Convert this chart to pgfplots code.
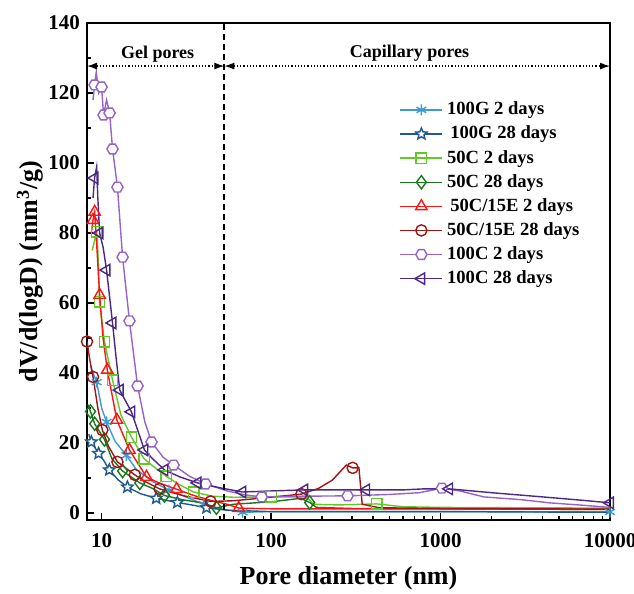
\documentclass[border=0pt]{standalone}
\usepackage{fontspec}
\setmainfont{Liberation Serif}
\usepackage{pgfplots}
\pgfplotsset{compat=1.18}
\usetikzlibrary{arrows.meta}

\definecolor{lblue}{RGB}{60,155,210}
\definecolor{dblue}{RGB}{30,90,140}
\definecolor{lgreen}{RGB}{100,200,40}
\definecolor{dgreen}{RGB}{25,120,30}
\definecolor{cred}{RGB}{255,20,20}
\definecolor{dred}{RGB}{160,20,20}
\definecolor{lpurple}{RGB}{150,100,200}
\definecolor{dpurple}{RGB}{75,40,130}

% hollow hexagon and outlined star marks
\pgfdeclareplotmark{hexagon}{%
  \pgfpathmoveto{\pgfpointpolar{0}{\pgfplotmarksize}}%
  \pgfpathlineto{\pgfpointpolar{60}{\pgfplotmarksize}}%
  \pgfpathlineto{\pgfpointpolar{120}{\pgfplotmarksize}}%
  \pgfpathlineto{\pgfpointpolar{180}{\pgfplotmarksize}}%
  \pgfpathlineto{\pgfpointpolar{240}{\pgfplotmarksize}}%
  \pgfpathlineto{\pgfpointpolar{300}{\pgfplotmarksize}}%
  \pgfpathclose\pgfusepathqfillstroke}
\pgfdeclareplotmark{ostar}{%
  \pgfpathmoveto{\pgfpointpolar{90}{\pgfplotmarksize}}%
  \pgfpathlineto{\pgfpointpolar{126}{0.45\pgfplotmarksize}}%
  \pgfpathlineto{\pgfpointpolar{162}{\pgfplotmarksize}}%
  \pgfpathlineto{\pgfpointpolar{198}{0.45\pgfplotmarksize}}%
  \pgfpathlineto{\pgfpointpolar{234}{\pgfplotmarksize}}%
  \pgfpathlineto{\pgfpointpolar{270}{0.45\pgfplotmarksize}}%
  \pgfpathlineto{\pgfpointpolar{306}{\pgfplotmarksize}}%
  \pgfpathlineto{\pgfpointpolar{342}{0.45\pgfplotmarksize}}%
  \pgfpathlineto{\pgfpointpolar{18}{\pgfplotmarksize}}%
  \pgfpathlineto{\pgfpointpolar{54}{0.45\pgfplotmarksize}}%
  \pgfpathclose\pgfusepathqfillstroke}

\begin{document}
\begin{tikzpicture}
\begin{axis}[
    name=ax,
    scale only axis,
    width=261.5pt, height=248.5pt,
    xmode=log, xmin=8.2, xmax=10000,
    ymin=-2, ymax=140,
    xtick={10,100,1000,10000},
    xticklabels={10,100,1000,10000},
    ytick={0,20,...,140},
    minor y tick num=1,
    tick align=inside,
    xtick pos=bottom, ytick pos=left,
    major tick length=3.5pt, minor tick length=2pt,
    axis line style={line width=1pt},
    every tick/.append style={black, line width=0.7pt},
    tick label style={font=\fontsize{10.5}{12}\selectfont\bfseries},
    /pgf/number format/assume math mode=true,
    xticklabel style={yshift=-3pt},
    xlabel={Pore diameter (nm)},
    ylabel={dV/d(logD) (mm\textsuperscript{3}/g)},
    label style={font=\fontsize{13}{16}\selectfont\bfseries},
    xlabel style={at={(axis description cs:0.5,-0.118)}, anchor=center},
    ylabel style={at={(axis description cs:-0.109,0.5)}, anchor=center},
    legend style={at={(axis description cs:0.597,0.85)}, anchor=north west,
        draw=none, fill=none, inner sep=0pt,
        font=\fontsize{9.3}{11}\selectfont\bfseries, row sep=0.1pt},
    legend cell align=left,
    legend image code/.code={%
        \draw[mark indices={2}] plot coordinates {(0cm,0cm) (0.37cm,0cm) (0.74cm,0cm)};},
    every axis plot/.append style={line width=0.7pt, mark size=2.8pt,
        mark options={solid, fill=white}},
]

\addplot[color=lblue, mark=asterisk, mark indices={2,4,6,9,11,13,16}] coordinates {
    (8.6,42) (9.35,37.4) (10,30) (10.7,26) (12,20.5) (14,16.5) (16,12.5)
    (20,9) (25,6.5) (30,5) (40,2.5) (50,1.2) (68,0.2) (100,0.4) (1000,0.4) (10000,0.3)
};
\addlegendentry{100G 2 days}

\addplot[color=dblue, mark=ostar, mark size=3pt, mark indices={2,3,5,7,9,10,12}] coordinates {
    (8.4,22.5) (8.7,20.3) (9.6,17) (10.3,15) (11.1,12.3) (12.5,9.5) (14.2,7.4)
    (17,5.5) (21,4.2) (28,3) (35,2.2) (41.6,1.5) (55,0.8) (100,0.4) (1000,0.4) (10000,0.2)
};
\addlegendentry{\,100G 28 days}

\addplot[color=lgreen, mark=square, mark size=2.6pt, mark indices={2,4,5,6,8,9,11,13,16,20}] coordinates {
    (8.8,75) (9.35,80.3) (9.5,75) (9.73,60.3) (10.4,48.9) (11.6,38) (13,28)
    (15,21.7) (17.8,15.5) (20,13.5) (24,10.5) (29,8) (35,6) (45,4.8) (60,4.5)
    (100,4.6) (160,4.6) (180,2.5) (250,2.3) (420,2.6) (600,1.8) (1000,1.6) (10000,1.4)
};
\addlegendentry{50C 2 days}

\addplot[color=dgreen, mark=diamond, mark size=3.3pt, mark indices={2,3,4,6,7,9,12,16}] coordinates {
    (8.3,31) (8.6,29) (9.1,25.5) (10.4,21) (11.5,15.5) (13.3,12) (16.8,8.6)
    (20,7) (23.5,5) (30,3.8) (40,2.8) (47.6,1.5) (60,2.5) (100,3.2) (150,4.2)
    (169,3) (185,1.6) (300,1.3) (1000,1.2) (10000,1.0)
};
\addlegendentry{50C 28 days}

\addplot[color=cred, mark=triangle, mark size=3.3pt, mark indices={2,3,5,7,8,9,10,12,16}] coordinates {
    (8.7,80) (8.9,83.7) (9.1,86) (9.4,75) (9.73,62.3) (10.2,50) (10.8,40.9)
    (12.3,26.6) (14.6,18) (18.4,10.3) (22,8.5) (27.7,6.8) (35,5) (45,3.5)
    (55,2.5) (64.5,1.4) (100,1.2) (1000,1.2) (10000,1.0)
};
\addlegendentry{\,50C/15E 2 days}

\addplot[color=dred, mark=o, mark indices={1,3,5,7,8,10,12,15,19}] coordinates {
    (8.2,49) (8.5,44) (8.9,38.9) (9.5,30) (10.1,23.7) (11,19) (12.4,14.6)
    (15.7,10.9) (18,9) (22,6.9) (30,5) (44,3.3) (60,3.5) (94,4.4) (151,5.4)
    (190,7) (230,9.4) (278,13.7) (303,12.9) (330,12.9) (345,2.5) (435,1.5)
    (1000,1.3) (10000,1.1)
};
\addlegendentry{50C/15E 28 days}

\addplot[color=lpurple, mark=hexagon, mark indices={2,5,6,8,9,10,11,12,13,15,17,19,22,24,27}] coordinates {
    (8.9,118) (9.09,122.3) (9.3,126) (9.6,120) (10,121.7) (10.27,113.7) (10.7,118)
    (11.15,114.3) (11.6,104) (12.4,93.1) (13.3,73.1) (14.6,54.9) (16.3,36.3)
    (18,26) (19.7,20.3) (23,16) (26.6,13.7) (33,10.5) (41.1,8.3) (55,6.3)
    (70,5.2) (88,4.6) (150,4.8) (283,4.9) (500,5.3) (750,5.8) (1018,7.1)
    (1300,6.3) (1800,4.6) (3000,3.8) (4400,2.9) (7000,2.2) (10000,1.6)
};
\addlegendentry{100C 2 days}

\addplot[color=dpurple, mark=triangle, mark size=3.3pt, mark options={rotate=90},
    mark indices={2,5,7,8,10,11,12,14,16,18,20,22,25,29}] coordinates {
    (8.9,90) (9.09,95.7) (9.35,98.9) (9.5,90) (9.73,80) (10.2,76) (10.7,69.4)
    (11.6,54.3) (12.2,44) (12.8,35.1) (15.0,28.9) (17.9,18) (20,15.5) (23.5,12.3)
    (29,10.3) (36.8,8.6) (50,7.2) (67.7,6) (100,6.3) (157,6.6) (250,6.6)
    (364,6.6) (600,6.6) (800,6.9) (1125,6.9) (2000,5.8) (4000,4.6) (7000,3.6) (10000,2.9)
};
\addlegendentry{100C 28 days}

% gel / capillary pore annotation
\draw[black, line width=0.9pt, dash pattern=on 3pt off 2pt] (axis cs:53,-2) -- (axis cs:53,140);
\draw[black, line width=0.6pt, densely dotted, {Latex[length=5pt,width=3.5pt]}-{Latex[length=5pt,width=3.5pt]}]
    (axis cs:8.2,127.7) -- (axis cs:53,127.7);
\draw[black, line width=0.6pt, densely dotted, {Latex[length=5pt,width=3.5pt]}-{Latex[length=5pt,width=3.5pt]}]
    (axis cs:53,127.7) -- (axis cs:10000,127.7);
\node[font=\fontsize{9}{11}\selectfont\bfseries] at (axis cs:21.4,131) {Gel pores};
\node[font=\fontsize{9}{11}\selectfont\bfseries] at (axis cs:656,131.5) {Capillary pores};
\end{axis}
\pgfresetboundingbox
\path (ax.south west) ++(-43.5pt,-36.5pt) coordinate (bl);
\path (ax.north east) ++(12pt,11.5pt) coordinate (tr);
\useasboundingbox (bl) rectangle (tr);
\end{tikzpicture}
\end{document}
